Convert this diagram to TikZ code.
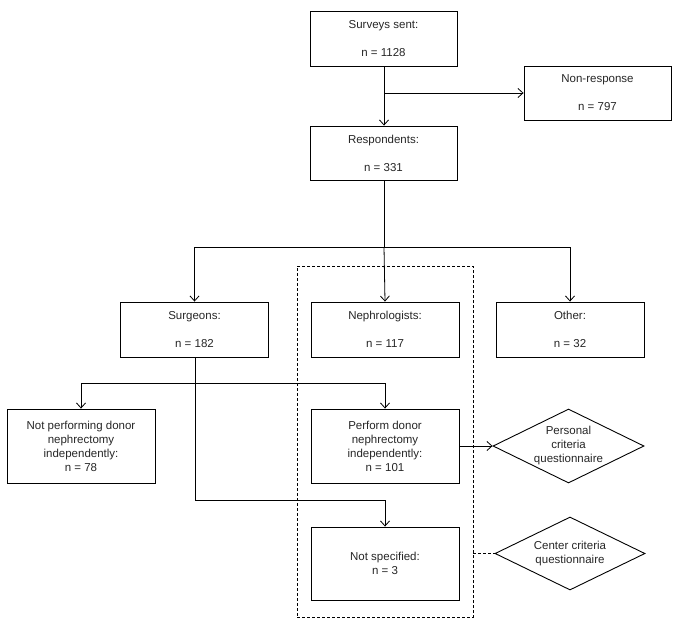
\documentclass[tikz,border=0pt]{standalone}
\usepackage{fontspec}
\setmainfont{Liberation Sans}
\usetikzlibrary{arrows.meta,shapes.geometric}
\begin{document}
\begin{tikzpicture}[x=1pt,y=-1pt,
  every node/.style={font=\fontsize{11.5}{14}\selectfont, align=center, inner sep=0pt, text=black!85},
  box/.style={draw, line width=0.9pt, minimum width=148pt},
  dia/.style={draw, diamond, line width=0.9pt, aspect=2},
  arr/.style={line width=0.8pt, -{Straight Barb[length=5pt,width=9pt]}},
  ln/.style={line width=0.8pt},
  dsh/.style={line width=0.8pt, dash pattern=on 3pt off 2pt}]
\useasboundingbox (0,0) rectangle (676,629);
% dashed group
\node[draw, dsh, minimum width=176pt, minimum height=351pt] (grp) at (385,441.5) {};
% boxes
\node[box, minimum width=147pt, minimum height=55pt] (sent) at (383.5,38.5) {Surveys sent:\\[14pt]n = 1128};
\node[box, minimum width=147pt, minimum height=54pt] (nonresp) at (597.5,93) {Non-response\\[14pt]n = 797};
\node[box, minimum width=147pt, minimum height=54pt] (resp) at (383.5,153) {Respondents:\\[14pt]n = 331};
\node[box, minimum height=55pt] (surg) at (194.5,329.5) {Surgeons:\\[14pt]n = 182};
\node[box, minimum height=55pt] (neph) at (385,329.5) {Nephrologists:\\[14pt]n = 117};
\node[box, minimum height=55pt] (other) at (570,329.5) {Other:\\[14pt]n = 32};
\node[box, minimum height=74pt] (notperf) at (81,446) {Not performing donor\\nephrectomy\\independently:\\n = 78};
\node[box, minimum height=74pt] (perf) at (385,446) {Perform donor\\nephrectomy\\independently:\\n = 101};
\node[box, minimum height=73pt] (notspec) at (385,563.5) {Not specified:\\n = 3};
\node[dia, minimum width=151pt, minimum height=74pt] (pers) at (568.5,446) {Personal\\criteria\\questionnaire};
\node[dia, minimum width=150pt, minimum height=73pt] (cent) at (570,553.5) {Center criteria\\questionnaire};
% junctions
\coordinate (j1) at (384,93);
\coordinate (j2) at (384,247);
\coordinate (j3) at (195,383);
\coordinate (j4) at (195,500);
% connectors
\draw[arr] (sent.south -| j1) -- (resp.north -| j1);
\draw[arr] (j1) -- (j1 -| nonresp.west);
\draw[ln] (resp.south -| j2) -- (j2);
\draw[arr] (j2) -- (neph.north);
\draw[arr] (j2) -| (surg.north);
\draw[arr] (j2) -| (other.north);
\draw[ln] (surg.south -| j3) -- (j4);
\draw[arr] (j4) -| (notspec.north);
\draw[arr] (j3) -| (notperf.north);
\draw[arr] (j3) -| (perf.north);
\draw[arr] (perf.east) -- (pers.west);
\draw[dsh] (grp.east |- cent.west) -- (cent.west);
\end{tikzpicture}
\end{document}
